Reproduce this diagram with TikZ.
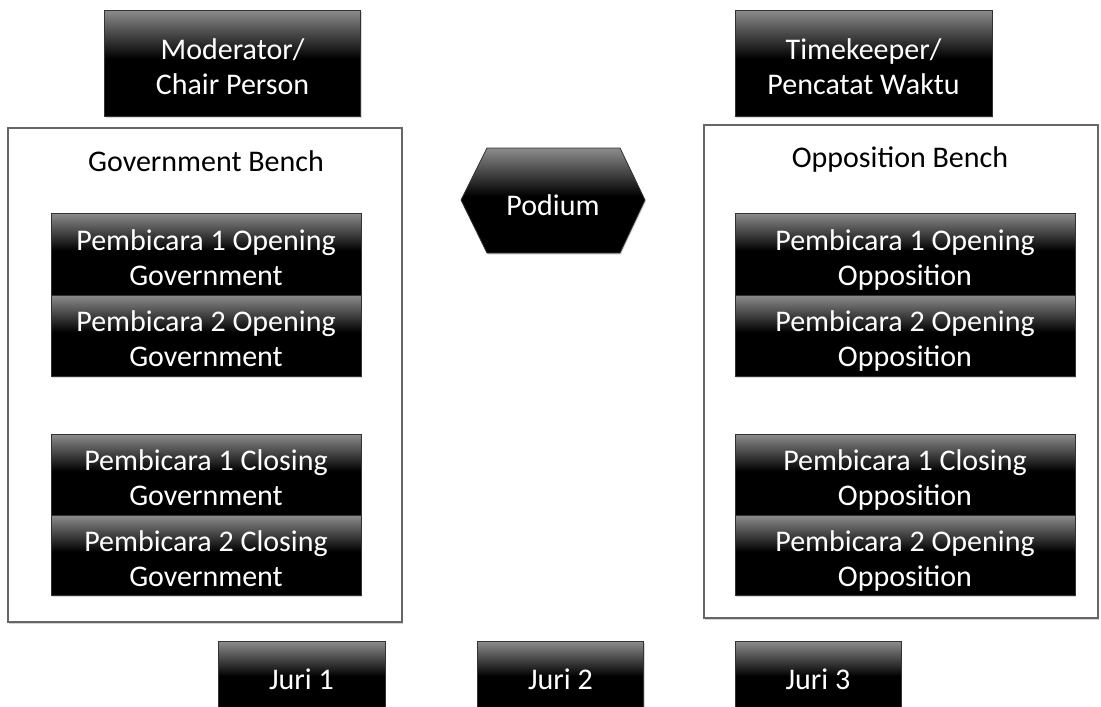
\documentclass[tikz,border=0pt]{standalone}
\usepackage{fontspec}
\setmainfont{Carlito}
\usetikzlibrary{shadows}
\pgfdeclareverticalshading{glossyb}{100bp}{color(0bp)=(black); color(52bp)=(black); color(75bp)=(white!55!black); color(100bp)=(white!55!black)}
\newcommand{\twolines}[1]{\raisebox{-6.5pt}[\height][\depth]{\begin{tabular}{@{}c@{}}#1\end{tabular}}}
\tikzset{
  darkbox/.style={draw=black!80, line width=0.8pt, shading=glossyb, text=white,
    inner sep=0pt, font=\fontsize{30}{35}\selectfont,
    drop shadow={shadow xshift=1pt, shadow yshift=-1.5pt, opacity=0.3}},
  bench/.style={draw=black!60, line width=1.2pt, fill=white, inner sep=0pt,
    drop shadow={shadow xshift=1pt, shadow yshift=-2pt, opacity=0.35}},
  benchtitle/.style={text=black, font=\fontsize{30}{35}\selectfont, inner sep=0pt},
}
\begin{document}
\begin{tikzpicture}[x=1pt,y=-1pt]
\clip (0,0) rectangle (1101,707);
\fill[white] (0,0) rectangle (1101,707);
% frames
\node[bench, minimum width=394pt, minimum height=494pt] (govframe) at (205,375) {};
\node[bench, minimum width=394pt, minimum height=493pt] (oppframe) at (901,371.5) {};
\node[benchtitle] (govtitle) at (206,161) {Government Bench};
\node[benchtitle] (opptitle) at (900,159) {Opposition Bench};
% top boxes
\node[darkbox, minimum width=256pt, minimum height=106pt] (mod) at (232.5,63) {\twolines{Moderator/\\Chair Person}};
\node[darkbox, minimum width=257pt, minimum height=106pt] (time) at (863.5,63) {\twolines{Timekeeper/\\Pencatat Waktu}};
% podium
\path[draw=black!80, line width=0.8pt, shading=glossyb, drop shadow={shadow xshift=1pt, shadow yshift=-1.5pt, opacity=0.3}]
  (461,200) -- (487,148) -- (620,148) -- (645,200) -- (620,253) -- (487,253) -- cycle;
\node[text=white, font=\fontsize{30}{35}\selectfont, inner sep=0pt] (podium) at (553,205) {Podium};
% government speakers
\node[darkbox, minimum width=310pt, minimum height=82pt] (g1) at (206,254) {\twolines{Pembicara 1 Opening\\Government}};
\node[darkbox, minimum width=310pt, minimum height=81pt] (g2) at (206,335.5) {\twolines{Pembicara 2 Opening\\Government}};
\node[darkbox, minimum width=310pt, minimum height=81pt] (g3) at (206,474.5) {\twolines{Pembicara 1 Closing\\Government}};
\node[darkbox, minimum width=310pt, minimum height=80pt] (g4) at (206,555) {\twolines{Pembicara 2 Closing\\Government}};
% opposition speakers
\node[darkbox, minimum width=340pt, minimum height=82pt] (o1) at (905,254) {\twolines{Pembicara 1 Opening\\Opposition}};
\node[darkbox, minimum width=340pt, minimum height=81pt] (o2) at (905,335.5) {\twolines{Pembicara 2 Opening\\Opposition}};
\node[darkbox, minimum width=340pt, minimum height=81pt] (o3) at (905,474.5) {\twolines{Pembicara 1 Closing\\Opposition}};
\node[darkbox, minimum width=340pt, minimum height=80pt] (o4) at (905,555) {\twolines{Pembicara 2 Opening\\Opposition}};
% judges
\node[darkbox, minimum width=167pt, minimum height=76pt] (j1) at (301.5,679.5) {Juri 1};
\node[darkbox, minimum width=166pt, minimum height=76pt] (j2) at (560.5,679.5) {Juri 2};
\node[darkbox, minimum width=166pt, minimum height=76pt] (j3) at (818,679.5) {Juri 3};
\end{tikzpicture}
\end{document}
